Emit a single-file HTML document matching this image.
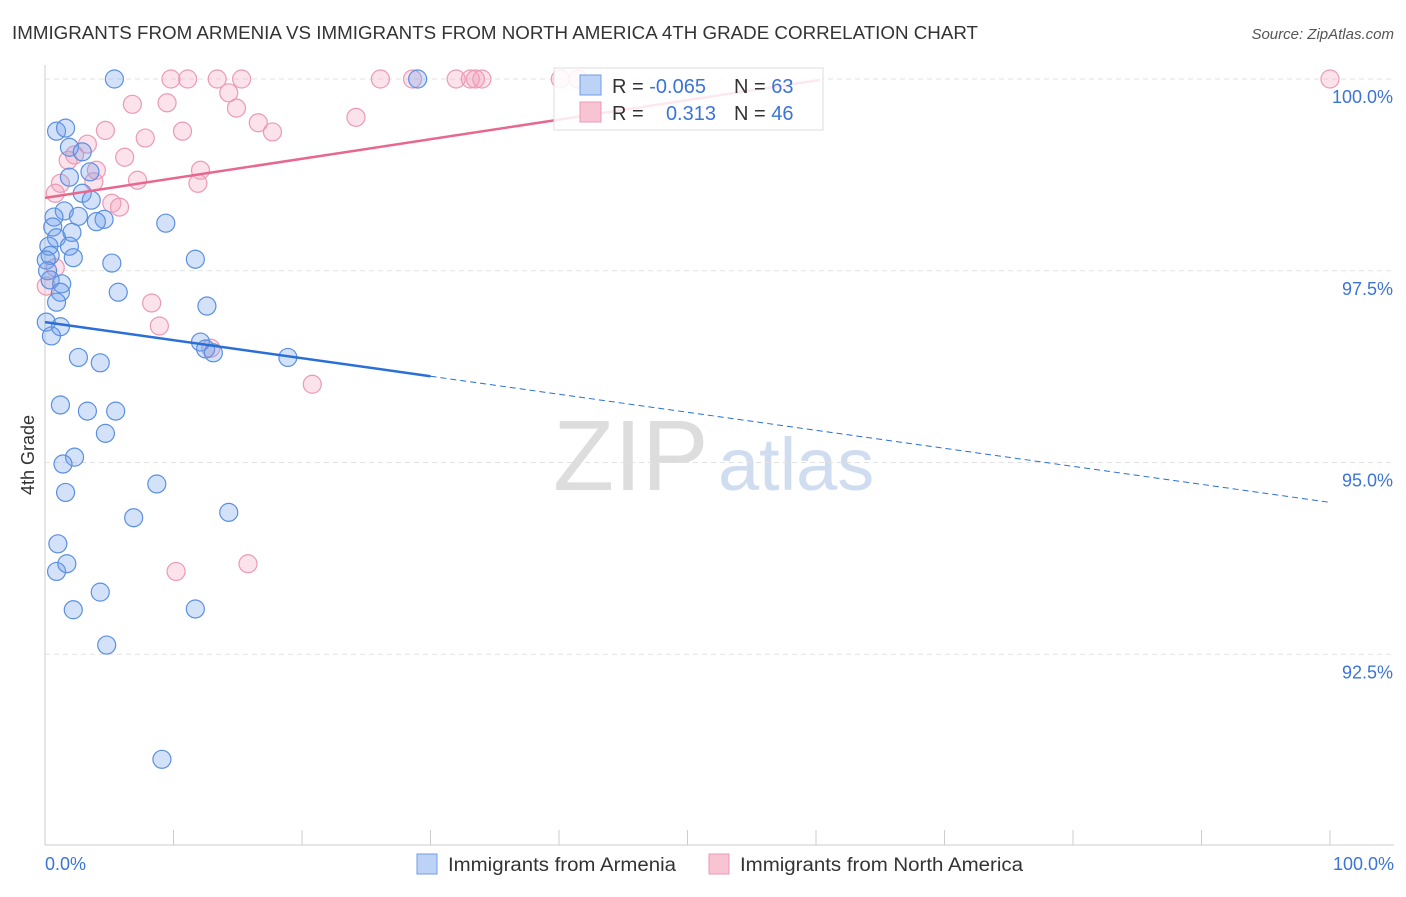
<!DOCTYPE html>
<html><head><meta charset="utf-8"><style>
body{margin:0;background:#fff;font-family:"Liberation Sans",sans-serif;}
svg text{font-family:"Liberation Sans",sans-serif;}
</style></head><body>
<svg id="c" width="1406" height="892">
<text x="12" y="39" font-size="18" fill="#333" textLength="966" lengthAdjust="spacingAndGlyphs">IMMIGRANTS FROM ARMENIA VS IMMIGRANTS FROM NORTH AMERICA 4TH GRADE CORRELATION CHART</text>
<text x="1394" y="39" font-size="15" fill="#555" font-style="italic" text-anchor="end">Source: ZipAtlas.com</text>
<text x="553" y="490" font-size="100" fill="#ddd" font-family="Liberation Serif">ZIP</text>
<text x="718" y="490" font-size="74" fill="#d0dcf0">atlas</text>
<text transform="translate(34,455) rotate(-90)" font-size="18" fill="#333" text-anchor="middle">4th Grade</text>
<g id="grid"></g><g id="marks"></g>
<text x="45" y="870" font-size="18" fill="#3b74d6">0.0%</text>
<text x="1394" y="870" font-size="18" fill="#3b74d6" text-anchor="end">100.0%</text>
<g>
<rect x="417" y="854" width="20" height="20" fill="#bcd3f5" stroke="#6f9de6"/>
<text x="448" y="871" font-size="19" fill="#333" textLength="228" lengthAdjust="spacingAndGlyphs">Immigrants from Armenia</text>
<rect x="709" y="854" width="20" height="20" fill="#f8c4d4" stroke="#eb9ab5"/>
<text x="740" y="871" font-size="19" fill="#333" textLength="283" lengthAdjust="spacingAndGlyphs">Immigrants from North America</text>
</g>
<g>
<rect x="554" y="68" width="269" height="62" fill="rgba(255,255,255,0.85)" stroke="#ddd"/>
<rect x="580" y="75" width="21" height="20" fill="#bcd3f5" stroke="#6f9de6"/>
<rect x="580" y="102" width="21" height="20" fill="#f8c4d4" stroke="#eb9ab5"/>
<text x="612" y="93" font-size="20" fill="#333">R = <tspan fill="#3b74d6">-0.065</tspan></text>
<text x="734" y="93" font-size="20" fill="#333">N = <tspan fill="#3b74d6">63</tspan></text>
<text x="612" y="120" font-size="20" fill="#333">R = </text>
<text x="716" y="120" font-size="20" fill="#3b74d6" text-anchor="end">0.313</text>
<text x="734" y="120" font-size="20" fill="#333">N = <tspan fill="#3b74d6">46</tspan></text>
</g>
</svg>
<script>
const yTicks=[100,97.5,95,92.5];
const yTickLabels=["100.0%","97.5%","95.0%","92.5%"];
const blueX=[5.4,29.0,0.9,1.6,1.9,2.9,3.5,1.9,2.9,3.6,1.5,0.7,2.6,4.6,4.0,9.4,0.6,2.1,0.9,0.3,1.9,0.4,2.2,0.1,5.2,11.7,0.2,0.4,1.3,1.2,5.7,0.9,12.6,0.1,1.2,0.5,12.1,12.5,13.1,18.9,2.6,4.3,1.2,3.3,5.5,4.7,2.3,1.4,1.6,8.7,6.9,14.3,1.0,0.9,1.7,4.3,2.2,11.7,4.8,9.1];
const blueY=[100,100,99.32,99.36,99.11,99.05,98.79,98.72,98.51,98.42,98.28,98.20,98.21,98.17,98.14,98.12,98.07,98.00,97.93,97.82,97.82,97.70,97.67,97.64,97.60,97.65,97.50,97.38,97.33,97.22,97.22,97.09,97.04,96.83,96.77,96.65,96.57,96.48,96.43,96.37,96.37,96.30,95.75,95.67,95.67,95.38,95.07,94.98,94.61,94.72,94.28,94.35,93.94,93.58,93.68,93.31,93.08,93.09,92.62,91.13];
const pinkX=[9.8,11.1,13.4,15.3,26.1,28.6,32.0,33.1,33.5,34.0,40.1,41.5,100,14.3,6.8,9.5,14.9,24.2,16.6,4.7,10.7,17.7,7.8,3.3,2.3,1.8,6.2,12.1,4.0,3.8,1.2,7.2,11.9,0.8,5.2,5.8,0.8,0.1,8.3,8.9,12.9,20.8,10.2,15.8];
const pinkY=[100,100,100,100,100,100,100,100,100,100,100,100,100,99.82,99.67,99.69,99.62,99.50,99.43,99.33,99.32,99.31,99.23,99.15,99.01,98.94,98.98,98.81,98.81,98.66,98.64,98.68,98.64,98.51,98.38,98.33,97.54,97.30,97.08,96.78,96.49,96.02,93.58,93.68];
const blueTrend=[96.83,94.48];
const pinkTrend=[98.45,101.0];
const X0=45,X1=1330,Y100=79,PXPER=76.7;
const sx=v=>X0+(X1-X0)*v/100;
const sy=v=>Y100+(100-v)*PXPER;
const NS="http://www.w3.org/2000/svg";
const grid=document.getElementById('grid'),marks=document.getElementById('marks');
function mk(t,a,p){const e=document.createElementNS(NS,t);for(const k in a)e.setAttribute(k,a[k]);p.appendChild(e);return e;}
const ax=mk('line',{x1:45,y1:65,x2:45,y2:845,stroke:'#ccc'},grid);


const bx=mk('line',{x1:45,y1:845,x2:1394,y2:845,stroke:'#ccc'},grid);


for(let i=0;i<=10;i++){const t=mk('line',{x1:sx(i*10),y1:830,x2:sx(i*10),y2:845,stroke:'#ccc'},grid);

}
yTicks.forEach((v,i)=>{const g=mk('line',{x1:45,y1:sy(v),x2:1394,y2:sy(v),stroke:'#e2e2e2','stroke-dasharray':'5,4'},grid);


const t=mk('text',{x:1393,y:sy(v)+24,'font-size':18,fill:'#3b74d6','text-anchor':'end'},grid);t.textContent=yTickLabels[i];

});
function dots(xs,ys,fill,stroke,name){xs.forEach((x,i)=>{const c=mk('circle',{cx:sx(x),cy:sy(ys[i]),r:9,fill:fill,stroke:stroke,'stroke-width':1.2},marks);

});}
dots(pinkX,pinkY,'rgba(243,160,188,0.3)','#eb9ab5','point-north-america');
dots(blueX,blueY,'rgba(110,160,235,0.3)','#5b8fe0','point-armenia');
const ly=x=>blueTrend[0]+(blueTrend[1]-blueTrend[0])*x/100;
const b1=mk('line',{x1:sx(0),y1:sy(ly(0)),x2:sx(30),y2:sy(ly(30)),stroke:'#2a6fd6','stroke-width':2.5},marks);


const b2=mk('line',{x1:sx(30),y1:sy(ly(30)),x2:sx(100),y2:sy(ly(100)),stroke:'#2a6fd6','stroke-width':1,'stroke-dasharray':'6,4'},marks);


const lp=x=>pinkTrend[0]+(pinkTrend[1]-pinkTrend[0])*x/100;
const p1=mk('line',{x1:sx(0),y1:sy(lp(0)),x2:sx(60.3),y2:sy(lp(60.3)),stroke:'#e8678f','stroke-width':2.5},marks);


</script>
</body></html>
